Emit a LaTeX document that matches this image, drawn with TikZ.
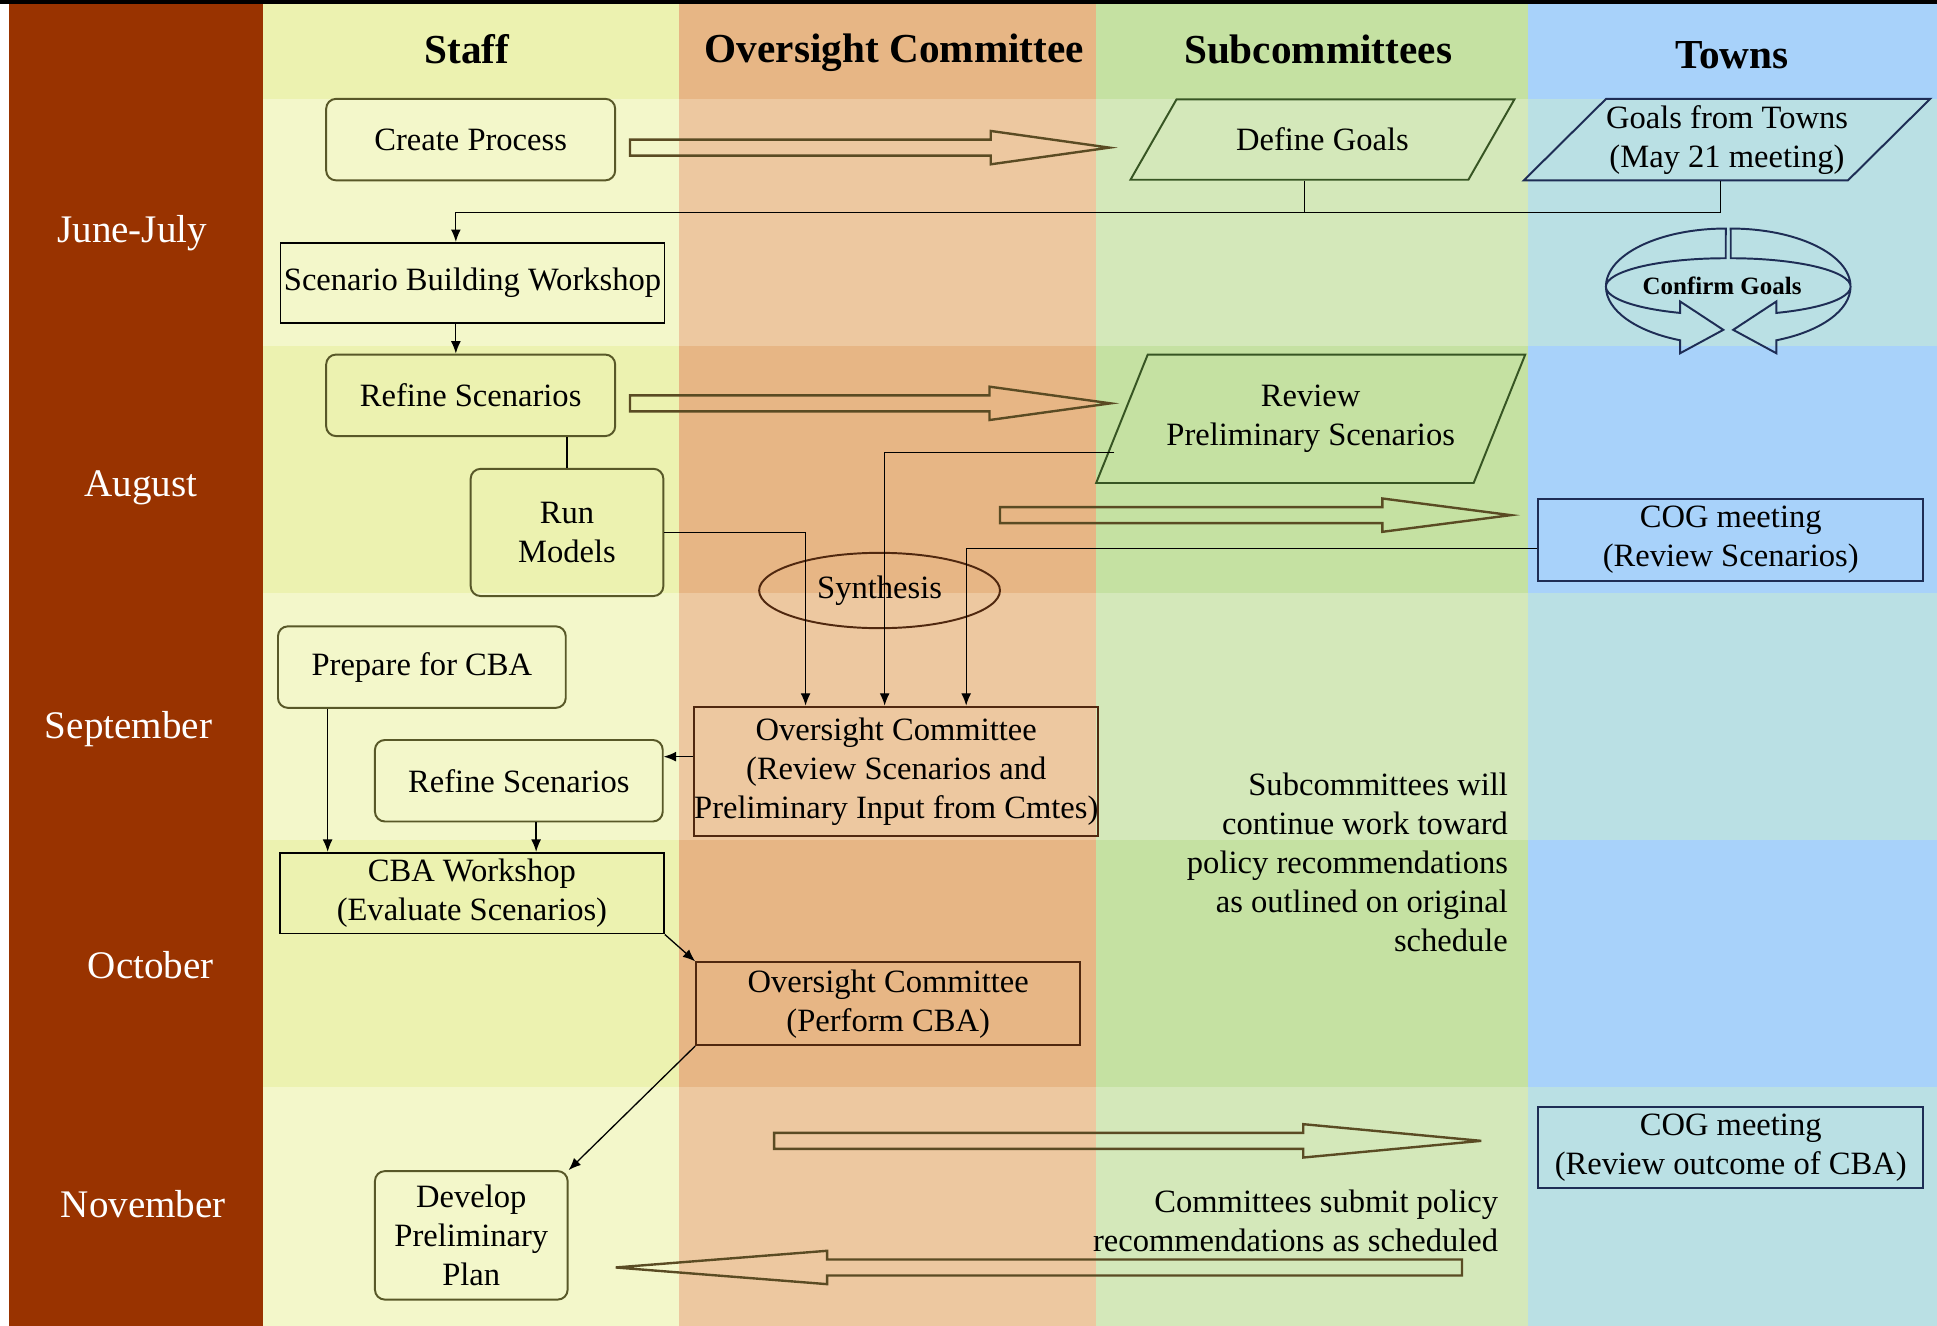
\documentclass[tikz,border=0pt]{standalone}
\usepackage{fontspec}
\setmainfont{Liberation Serif}
\usetikzlibrary{arrows.meta, positioning, shapes, shapes.geometric, calc}

\definecolor{monthBrown}{RGB}{153,51,0}
\definecolor{staffDark}{RGB}{236,242,176}
\definecolor{staffLight}{RGB}{243,247,202}
\definecolor{overDark}{RGB}{231,182,133}
\definecolor{overLight}{RGB}{237,200,160}
\definecolor{subDark}{RGB}{197,225,162}
\definecolor{subLight}{RGB}{212,232,186}
\definecolor{townDark}{RGB}{168,210,250}
\definecolor{townLight}{RGB}{186,224,228}
\definecolor{taskLine}{RGB}{88,88,40}
\definecolor{ocLine}{RGB}{80,40,15}
\definecolor{goalLine}{RGB}{55,85,35}
\definecolor{cogLine}{RGB}{30,45,85}
\definecolor{bigLine}{RGB}{90,75,35}

\tikzset{
  task/.style = {
    draw=taskLine,
    line width=.9pt,
    rounded corners=.16cm,
    align=center,
    inner sep=0pt,
  },
  workshop/.style = {
    draw=black,
    line width=.8pt,
    align=center,
    inner sep=0pt,
  },
  meeting/.style = {
    draw=ocLine,
    line width=.9pt,
    align=center,
    inner sep=0pt,
  },
  cog/.style = {
    draw=cogLine,
    line width=.9pt,
    align=center,
    inner sep=0pt,
  },
  goal/.style = {
    draw=goalLine,
    line width=.9pt,
    trapezium,
    trapezium stretches=true,
    align=center,
    inner sep=0pt,
  },
  link/.style = {
    draw=black,
    line width=.6pt,
  },
  flow/.style = {
    link,
    -{Latex[length=2mm, width=1.6mm]},
  },
  hollowArrow/.style = {
    draw=bigLine,
    line width=1.1pt,
    line join=miter,
  },
  lane/.style = {
    font=\bfseries\fontsize{19}{22}\selectfont,
  },
  month/.style = {
    text=white,
    font=\fontsize{18}{22}\selectfont,
  },
}

% outline arrow: from x, to x, y, x of head base
\newcommand{\fatArrow}[4]{%
  \draw[hollowArrow] (#1,#3-6.5) -- (#4,#3-6.5) -- (#4,#3-13.5) -- (#2,#3)
    -- (#4,#3+13.5) -- (#4,#3+6.5) -- (#1,#3+6.5) -- cycle;}

\begin{document}
\begin{tikzpicture}[x=0.02cm, y=-0.02cm, font=\fontsize{15}{18}\selectfont]
\useasboundingbox (0,0) rectangle (1568,1073);

% lanes and month bands
\fill[white] (0,0) rectangle (1568,1073);
\fill[monthBrown] (7,0) rectangle (213,1073);
\foreach \xa/\xb/\lane in {213/550/staff, 550/887/over, 887/1237/sub, 1237/1568/town}{
  \fill[fill=\lane Dark] (\xa,0) rectangle (\xb,80);
  \foreach \ya/\yb/\tone in {80/280/Light, 280/480/Dark, 480/680/Light, 680/880/Dark, 880/1073/Light}
    \fill[fill=\lane\tone] (\xa,\ya) rectangle (\xb,\yb);
}
\fill[black] (0,0) rectangle (1568,3);

\node(hdStaff)[lane] at (378,40) {Staff};
\node(hdOver)[lane] at (724,43) {Oversight Committee};
\node(hdSub)[lane] at (1067,40) {Subcommittees};
\node(hdTowns)[lane] at (1402,45) {Towns};

\node(mJune)[month] at (107,189) {June-July};
\node(mAug)[month] at (114,395) {August};
\node(mSep)[month] at (104,590) {September};
\node(mOct)[month] at (122,781) {October};
\node(mNov)[month] at (116,975) {November};

% June-July
\node(CreateProcess)[task, minimum width=4.68cm, minimum height=1.32cm] at (381,113) {Create Process};
\node(DefineGoals)[goal, trapezium left angle=40.5, trapezium right angle=139.5,
  minimum width=6.22cm, minimum height=1.3cm] at (1070.5,113) {Define Goals};
\node(TownGoals)[goal, draw=cogLine, trapezium left angle=40, trapezium right angle=140,
  minimum width=6.38cm, minimum height=1.32cm] at (1398,113) {Goals from Towns\\(May 21 meeting)};
\node(ScenarioWorkshop)[workshop, minimum width=6.22cm, minimum height=1.3cm] at (382.5,229) {Scenario Building Workshop};
\node(ConfirmGoals)[font=\bfseries\fontsize{11.5}{14}\selectfont] at (1394,231) {Confirm Goals};

% August
\node(RefineA)[task, minimum width=4.68cm, minimum height=1.32cm] at (381,320) {Refine Scenarios};
\node(ReviewPrelim)[goal, trapezium left angle=56, trapezium right angle=124,
  minimum width=6.96cm, minimum height=2.08cm] at (1061,339) {Review\\Preliminary Scenarios};
\node(RunModels)[task, minimum width=3.12cm, minimum height=2.06cm] at (459,431) {Run\\Models};
\node(CogReview)[cog, minimum width=6.24cm, minimum height=1.32cm] at (1401,437) {COG meeting\\(Review Scenarios)};
\node(Synthesis)[ellipse, draw=ocLine, line width=.9pt, inner sep=0pt,
  minimum width=3.9cm, minimum height=1.22cm] at (712,478) {Synthesis};

% September
\node(PrepareCBA)[task, minimum width=4.66cm, minimum height=1.32cm] at (341.5,540) {Prepare for CBA};
\node(OversightReview)[meeting, minimum width=6.46cm, minimum height=2.1cm] at (725.5,624.5)
  {Oversight Committee\\(Review Scenarios and\\Preliminary Input from Cmtes)};
\node(RefineB)[task, minimum width=4.66cm, minimum height=1.32cm] at (420,632) {Refine Scenarios};
\node(SubNote)[anchor=east, align=right, inner sep=0pt] at (1221,698)
  {Subcommittees will\\continue work toward\\policy recommendations\\as outlined on original\\schedule};

% October
\node(CBAWorkshop)[workshop, minimum width=6.22cm, minimum height=1.31cm] at (382,723) {CBA Workshop\\(Evaluate Scenarios)};
\node(OversightCBA)[meeting, minimum width=6.22cm, minimum height=1.34cm] at (719,812.5) {Oversight Committee\\(Perform CBA)};

% November
\node(DevelopPlan)[task, minimum width=3.12cm, minimum height=2.08cm] at (381.5,1000) {Develop\\Preliminary\\Plan};
\node(CogCBA)[cog, minimum width=6.24cm, minimum height=1.32cm] at (1401,929) {COG meeting\\(Review outcome of CBA)};
\node(CmteNote)[anchor=east, align=right, inner sep=0pt] at (1213,988)
  {Committees submit policy\\recommendations as scheduled};

% bus points
\coordinate (busR) at (1393,172);
\coordinate (busL) at (369,172);
\coordinate (goalStub) at (1056,172);
\coordinate (revOut) at (902,366.5);
\coordinate (inA) at ($(OversightReview.north west)+(91,0)$);
\coordinate (inB) at ($(OversightReview.north west)+(155,0)$);
\coordinate (inC) at ($(OversightReview.north west)+(221,0)$);
\coordinate (cogOut) at ($(CogReview.west)+(0,7)$);
\coordinate (backOut) at ($(OversightReview.west)+(0,-12)$);
\coordinate (prepDrop) at ($(PrepareCBA.south west)+(41,0)$);
\coordinate (refDrop) at ($(RefineB.south)+(14,0)$);

\draw[link] (busR |- TownGoals.south) -- (busR) -- (busL);
\draw[link] (goalStub |- DefineGoals.south) -- (goalStub);
\draw[flow] (busL) -- (busL |- ScenarioWorkshop.north);
\draw[flow] (busL |- ScenarioWorkshop.south) -- (busL |- RefineA.north);
\draw[link] (RunModels.north |- RefineA.south) -- (RunModels.north);
\draw[flow] (RunModels.east) -| (inA);
\draw[flow] (revOut) -| (inB);
\draw[flow] (cogOut) -| (inC);
\draw[flow] (backOut) -- (backOut -| RefineB.east);
\draw[flow] (prepDrop) -- (prepDrop |- CBAWorkshop.north);
\draw[flow] (refDrop) -- (refDrop |- CBAWorkshop.north);
\draw[flow] (CBAWorkshop.south east) -- (OversightCBA.north west);
\draw[flow] (OversightCBA.south west) -- (DevelopPlan.north east);

% outline arrows
\fatArrow{510}{898}{119.5}{802}
\fatArrow{510}{899}{326.5}{801}
\fatArrow{809.5}{1223}{417}{1119}
\fatArrow{626.6}{1199}{923.5}{1055}
\fatArrow{1183.5}{498.4}{1026}{669.5}

% confirm goals cycle
\begin{scope}[shift={(1399,232)}]
  \draw[cog, xshift=-.04cm] (0,-47) arc[start angle=270, end angle=112.4, x radius=97, y radius=47]
    -- ++(0,10.5) -- (-2,35) -- (-37,12) -- (-37,21.3)
    arc[start angle=112.4, end angle=270, x radius=97, y radius=23] -- cycle;
  \draw[cog, xshift=.04cm] (0,-47) arc[start angle=-90, end angle=67.6, x radius=97, y radius=47]
    -- ++(0,10.5) -- (2,35) -- (37,12) -- (37,21.3)
    arc[start angle=67.6, end angle=-90, x radius=97, y radius=23] -- cycle;
\end{scope}

\end{tikzpicture}
\end{document}
